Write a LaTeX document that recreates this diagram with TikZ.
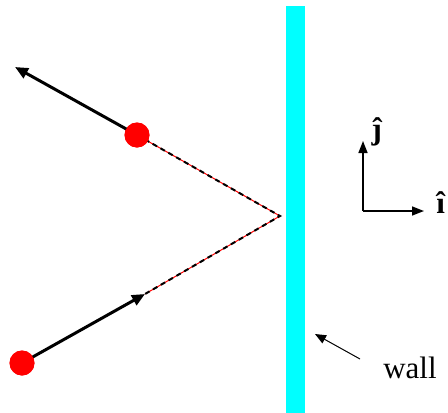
\documentclass[tikz,border=0pt]{standalone}
\usepackage{fontspec}
\setmainfont{Liberation Serif}
\usetikzlibrary{arrows.meta}
\definecolor{wallcyan}{RGB}{0,255,255}
\definecolor{ballred}{RGB}{255,0,0}
\begin{document}
\begin{tikzpicture}[x=1pt,y=-1pt,
  ball/.style={circle,fill=ballred,inner sep=0pt,minimum size=25pt},
  motion/.style={line width=3pt,-{Triangle[length=13pt,width=11pt]}},
  path1/.style={line width=2pt,dash pattern=on 5pt off 4pt},
  redline/.style={ballred,line width=1pt},
  axis/.style={line width=1.5pt,-{Triangle[length=12pt,width=9pt]}},
  pointer/.style={line width=1pt,-{Triangle[length=11pt,width=9pt]}},
  lbl/.style={font=\fontsize{31}{36}\selectfont,inner sep=0pt}]
\useasboundingbox (0,0) rectangle (448,413);
% wall
\fill[wallcyan] (286,6) rectangle (305,413);
% points
\coordinate (R) at (280,216);
\coordinate (U) at (15,67);
\coordinate (M) at (145,294);
\node[ball] (b1) at (137,135) {};
\node[ball] (b2) at (22,363) {};
% dashed paths
\draw[redline] (b1.center) -- (R) -- (M);
\draw[path1] (b1.center) -- (R) -- (M);
% motion arrows
\draw[motion] (b1.center) -- (U);
\draw[motion] (b2.center) -- (M);
\node[ball] at (b1.center) {};
\node[ball] at (b2.center) {};
% axes
\coordinate (O) at (363,211);
\coordinate (J) at (363,141);
\coordinate (I) at (424,211);
\draw[axis] (O) -- (J);
\draw[axis] (O) -- (I);
\node[lbl,anchor=base] (jl) at (377,139) {\textbf{\^{\j}}};
\node[lbl,anchor=base] (il) at (441,213) {\textbf{\^{\i}}};
% wall label
\coordinate (P) at (360,359);
\coordinate (W) at (315,334);
\node[lbl,anchor=base] (wl) at (410,378) {wall};
\draw[pointer] (P) -- (W);
\end{tikzpicture}
\end{document}
